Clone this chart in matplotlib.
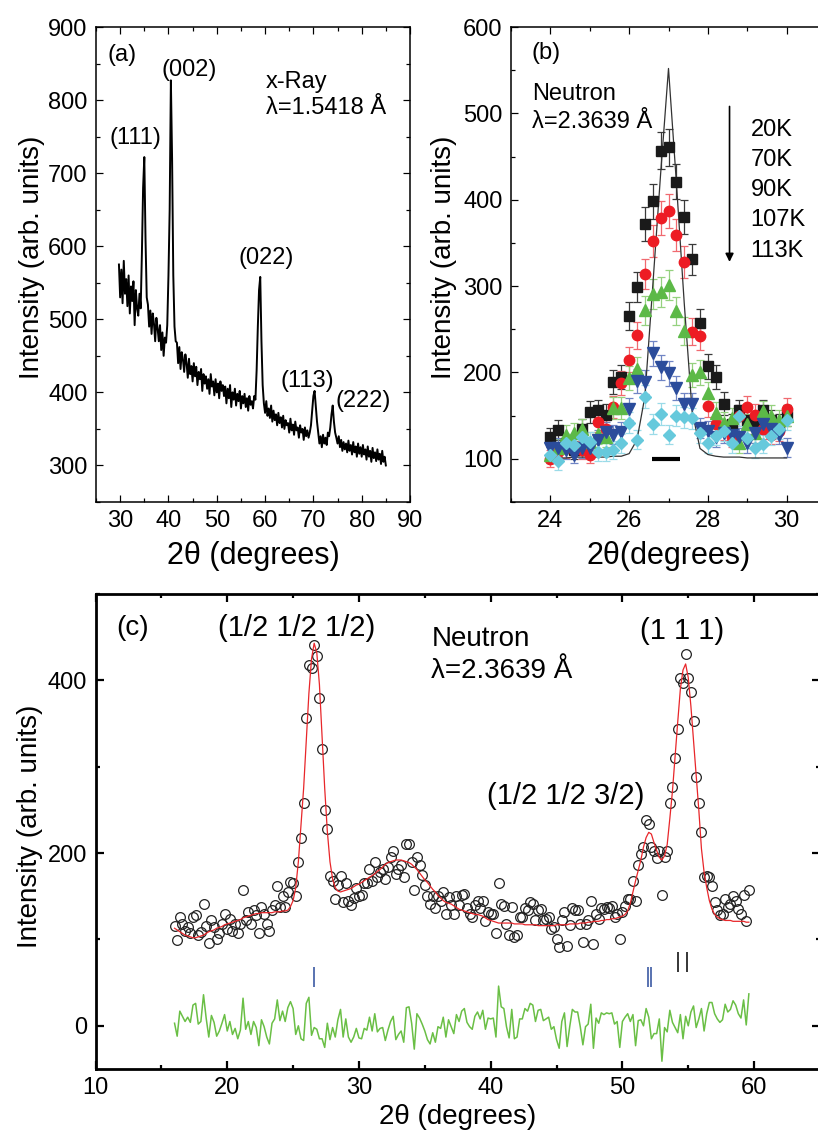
import numpy as np
import matplotlib
matplotlib.use("Agg")
import matplotlib.pyplot as plt
from matplotlib.ticker import MultipleLocator

plt.rcParams["font.family"] = ["Liberation Sans", "DejaVu Sans"]
plt.rcParams["mathtext.default"] = "regular"

# ---------------- (a) x-ray pattern, 0.25 deg steps from 29.75 to 85.0
XR_START, XR_STEP = 29.75, 0.25
xr_counts = [
    575, 530, 568, 522, 580, 535, 555, 518,
    560, 508, 545, 525, 552, 492, 540, 515,
    505, 535, 515, 590, 680, 722, 610, 530,
    520, 490, 512, 480, 508, 494, 470, 502,
    488, 470, 492, 458, 482, 450, 475, 468,
    492, 560, 650, 827, 720, 560, 490, 470,
    468, 440, 462, 432, 455, 445, 428, 452,
    440, 420, 446, 425, 436, 415, 440, 422,
    435, 410, 428, 418, 432, 402, 425, 412,
    422, 405, 418, 398, 425, 408, 415, 396,
    418, 400, 412, 392, 415, 402, 410, 395,
    408, 385, 405, 392, 410, 380, 400, 390,
    405, 382, 398, 388, 402, 378, 395, 385,
    398, 380, 392, 375, 395, 383, 388, 378,
    395, 390, 430, 490, 540, 558, 470, 410,
    385, 372, 388, 368, 378, 365, 382, 360,
    375, 362, 370, 355, 372, 358, 366, 352,
    368, 350, 362, 355, 358, 345, 364, 348,
    356, 342, 360, 348, 352, 338, 355, 345,
    350, 335, 352, 340, 348, 338, 345, 355,
    375, 395, 402, 380, 360, 345, 330, 340,
    325, 342, 330, 338, 328, 345, 340, 352,
    370, 382, 360, 345, 338, 330, 340, 325,
    335, 320, 332, 322, 330, 318, 334, 320,
    328, 315, 332, 318, 326, 312, 330, 316,
    325, 312, 328, 315, 322, 308, 326, 312,
    320, 305, 324, 310, 318, 306, 322, 308,
    316, 302, 320, 305, 312, 300,
]
xr_tth = XR_START + XR_STEP * np.arange(len(xr_counts))

xr_peaks = ["(111)", "(002)", "(022)", "(113)", "(222)"]
xr_peak_pos = [(33.1, 748), (44.2, 841), (60.2, 584), (68.8, 415), (80.4, 388)]

# ---------------- (b) neutron, temperature dependence
nb_tth = np.round(np.arange(24.0, 30.01, 0.2), 1)
i_20k = [125, 133, 118, 110, 134, 154, 156, 151, 189, 195, 265, 299, 372, 398, 457, 461,
         421, 380, 331, 257, 207, 195, 164, 140, 156, 145, 140, 156, 145, 140, 150]
i_70k = [100, 108, 112, 115, 110, 105, 143, 135, 160, 188, 215, 243, 314, 352, 379, 387,
         359, 328, 247, 242, 161, 140, 133, 125, 150, 160, 151, 135, 128, 132, 158]
i_90k = [105, 112, 128, 130, 135, 120, 129, 125, 159, 159, 194, 204, 272, 291, 293, 301,
         271, 248, 197, 200, 176, 153, 142, 147, 118, 140, 130, 155, 150, 145, 150]
i_107k = [112, 113, 110, 105, 112, 112, 122, 131, 128, 131, 158, 190, 189, 222, 206, 199,
          182, 163, 163, 136, 132, 125, 130, 128, 125, 118, 130, 140, 135, 128, 113]
i_113k = [105, 97, 118, 116, 125, 120, 108, 108, 110, 118, 142, 122, 172, 140, 152, 128,
          150, 148, 147, 130, 118, 127, 132, 118, 150, 124, 112, 117, 127, 135, 145]
i_line = [101, 101, 101, 102, 102, 102, 102, 102, 103, 103, 106, 122, 172, 300, 430, 552,
          420, 280, 155, 112, 105, 103, 102, 102, 102, 101, 101, 101, 101, 101, 101]
temps = ["20K", "70K", "90K", "107K", "113K"]

# ---------------- (c) neutron pattern with fit, 0.2 deg steps
nc_tth = np.round(np.arange(16.0, 59.61, 0.2), 1)
nc_obs = [
    116, 99, 126, 118, 110, 114, 107, 126, 128, 105,
    109, 141, 116, 96, 122, 115, 101, 108, 118, 130,
    112, 124, 110, 118, 107, 118, 157, 122, 132, 118,
    134, 128, 107, 138, 130, 118, 110, 134, 140, 162,
    138, 150, 138, 155, 166, 165, 150, 190, 217, 258,
    356, 418, 414, 441, 428, 380, 320, 250, 228, 174,
    168, 147, 163, 174, 143, 165, 145, 140, 148, 160,
    150, 151, 165, 165, 182, 168, 190, 172, 178, 182,
    170, 184, 195, 202, 176, 182, 186, 172, 211, 211,
    190, 157, 195, 186, 175, 163, 150, 141, 150, 136,
    150, 145, 155, 130, 149, 140, 130, 150, 140, 151,
    153, 136, 130, 126, 140, 145, 136, 145, 121, 132,
    130, 130, 107, 165, 141, 139, 118, 105, 138, 103,
    105, 126, 126, 137, 134, 143, 141, 122, 134, 135,
    122, 124, 126, 112, 115, 101, 91, 122, 132, 93,
    117, 137, 134, 134, 118, 97, 118, 122, 145, 95,
    130, 124, 137, 135, 138, 137, 139, 126, 130, 101,
    132, 139, 147, 147, 168, 145, 186, 199, 207, 238,
    234, 207, 203, 194, 203, 151, 195, 203, 258, 276,
    310, 344, 403, 397, 430, 403, 386, 353, 288, 258,
    225, 172, 174, 172, 162, 143, 134, 128, 130, 147,
    138, 141, 150, 145, 135, 130, 151, 121, 157,
]
nc_fit = [
    113, 111, 109, 107, 105, 104, 103, 102, 102, 103,
    104, 105, 107, 109, 110, 111, 113, 114, 115, 117,
    118, 119, 120, 121, 122, 123, 125, 126, 127, 128,
    129, 130, 130, 131, 131, 131, 131, 131, 132, 132,
    132, 133, 133, 134, 138, 145, 160, 190, 232, 275,
    330, 385, 425, 443, 432, 395, 335, 275, 225, 190,
    170, 160, 156, 155, 156, 157, 158, 159, 161, 163,
    164, 166, 168, 170, 172, 174, 176, 179, 181, 184,
    187, 189, 190, 191, 192, 192, 192, 191, 190, 189,
    187, 184, 181, 177, 173, 169, 166, 162, 158, 155,
    151, 148, 145, 143, 142, 141, 139, 137, 135, 134,
    133, 132, 131, 130, 129, 129, 128, 127, 125, 123,
    122, 121, 120, 119, 119, 119, 119, 119, 119, 118,
    118, 118, 118, 117, 117, 117, 117, 117, 116, 116,
    116, 116, 116, 116, 116, 117, 117, 117, 117, 117,
    118, 118, 118, 118, 119, 119, 119, 120, 120, 121,
    121, 121, 122, 122, 123, 123, 124, 124, 125, 126,
    127, 129, 133, 142, 155, 168, 180, 192, 207, 218,
    224, 222, 212, 203, 195, 192, 197, 210, 240, 272,
    312, 352, 390, 412, 419, 403, 370, 330, 290, 250,
    205, 178, 160, 145, 135, 129, 126, 124, 123, 122,
    122, 122, 121, 121, 121, 121, 121, 120, 120,
]
mag_refl = [26.6, 51.95, 52.2]
nuc_refl = [54.25, 54.9]


def style_axes(ax, lw, fs, maj, mnr):
    for s in ax.spines.values():
        s.set_linewidth(lw)
    ax.tick_params(which="both", direction="in", top=True, right=True,
                   width=lw * 0.8, labelsize=fs, pad=6)
    ax.tick_params(which="major", length=maj)
    ax.tick_params(which="minor", length=mnr)


W, H = 818, 1133
fig = plt.figure(figsize=(W / 100, H / 100), dpi=100)

# ---------- panel (a)
ax = fig.add_axes([96 / W, 1 - 502 / H, 314 / W, 475 / H])
ax.plot(xr_tth, xr_counts, color="black", lw=1.4)
ax.set_xlim(25, 90)
ax.set_ylim(250, 900)
ax.xaxis.set_major_locator(MultipleLocator(10))
ax.xaxis.set_minor_locator(MultipleLocator(5))
ax.yaxis.set_major_locator(MultipleLocator(100))
ax.yaxis.set_minor_locator(MultipleLocator(50))
style_axes(ax, 1.1, 17, 5, 3)
ax.set_xlabel("2θ (degrees)", fontsize=22)
ax.set_ylabel("Intensity (arb. units)", fontsize=20)
ax.xaxis.set_label_coords(0.5, -0.082)
ax.yaxis.set_label_coords(-0.162, 0.516)
ax.text(27.3, 861, "(a)", fontsize=17, ha="left", va="center")
for lab, (px, py) in zip(xr_peaks, xr_peak_pos):
    ax.text(px, py, lab, fontsize=17, ha="center", va="center")
ax.text(60.2, 825, "x-Ray", fontsize=17, ha="left", va="center")
ax.text(60.2, 789, "λ=1.5418 Å", fontsize=17, ha="left", va="center")

# ---------- panel (b)
ax = fig.add_axes([511 / W, 1 - 502 / H, 315 / W, 475 / H])
series = [
    (i_20k, "s", "#1a1a1a", "#3a3a3a", 6.5),
    (i_70k, "o", "#ed1c24", "#f06a70", 7.5),
    (i_90k, "^", "#5cb947", "#95d17f", 8),
    (i_107k, "v", "#2b4c9b", "#7085c4", 8),
    (i_113k, "D", "#66c9dc", "#9bdbe8", 6.5),
]
for vals, mk, col, ecol, ms in series:
    v = np.array(vals, dtype=float)
    ax.errorbar(nb_tth, v, yerr=np.sqrt(v), fmt=mk, color=col, ecolor=ecol,
                ms=ms, mec=col, elinewidth=0.9, capsize=3, capthick=0.9)
ax.plot(nb_tth, i_line, color="#333333", lw=0.9)
ax.plot([26.57, 27.3], [100, 100], color="black", lw=3, solid_capstyle="butt")
ax.set_xlim(23, 31)
ax.set_ylim(50, 600)
ax.xaxis.set_major_locator(MultipleLocator(2))
ax.xaxis.set_minor_locator(MultipleLocator(1))
ax.yaxis.set_major_locator(MultipleLocator(100))
ax.yaxis.set_minor_locator(MultipleLocator(50))
style_axes(ax, 1.1, 17, 5, 3)
ax.set_xlabel("2θ(degrees)", fontsize=22)
ax.set_ylabel("Intensity (arb. units)", fontsize=20)
ax.xaxis.set_label_coords(0.5, -0.082)
ax.yaxis.set_label_coords(-0.171, 0.516)
ax.text(23.53, 570, "(b)", fontsize=17, ha="left", va="center")
ax.text(23.53, 523, "Neutron", fontsize=17, ha="left", va="center")
ax.text(23.53, 490, "λ=2.3639 Å", fontsize=17, ha="left", va="center")
ax.annotate("", xy=(28.55, 328), xytext=(28.55, 508),
            arrowprops=dict(arrowstyle="-|>", color="black", lw=1.2,
                            mutation_scale=12, shrinkA=0, shrinkB=0))
for k, t in enumerate(temps):
    ax.text(29.08, 481 - 35 * k, t, fontsize=17, ha="left", va="center")

# ---------- panel (c)
ax = fig.add_axes([95.5 / W, 1 - 1069 / H, 724.5 / W, 475 / H])
obs = np.array(nc_obs, dtype=float)
fit = np.array(nc_fit, dtype=float)
ax.plot(nc_tth, obs, "o", mfc="none", mec="#222222", ms=7, mew=0.9)
ax.plot(nc_tth, fit, color="#e8262a", lw=0.9)
ax.plot(nc_tth, obs - fit, color="#6abf45", lw=1.1)
ax.vlines(mag_refl, 45, 68, color="#2b4c9b", lw=1.1)
ax.vlines(nuc_refl, 62, 86, color="black", lw=1.1)
ax.set_xlim(10, 65)
ax.set_ylim(-50, 500)
ax.xaxis.set_major_locator(MultipleLocator(10))
ax.xaxis.set_minor_locator(MultipleLocator(5))
ax.yaxis.set_major_locator(MultipleLocator(200))
ax.yaxis.set_minor_locator(MultipleLocator(100))
style_axes(ax, 2.0, 17, 5.5, 3)
ax.set_xlabel("2θ (degrees)", fontsize=20)
ax.set_ylabel("Intensity (arb. units)", fontsize=20)
ax.xaxis.set_label_coords(0.5, -0.074)
ax.yaxis.set_label_coords(-0.0725, 0.51)
ax.text(11.6, 461, "(c)", fontsize=20, ha="left", va="center")
ax.text(25.3, 461, "(1/2 1/2 1/2)", fontsize=21, ha="center", va="center")
ax.text(35.5, 448, "Neutron", fontsize=20, ha="left", va="center")
ax.text(35.5, 411, "λ=2.3639 Å", fontsize=20, ha="left", va="center")
ax.text(54.5, 457, "(1 1 1)", fontsize=21, ha="center", va="center")
ax.text(45.7, 266, "(1/2 1/2 3/2)", fontsize=21, ha="center", va="center")

fig.savefig("out.png", dpi=100)
